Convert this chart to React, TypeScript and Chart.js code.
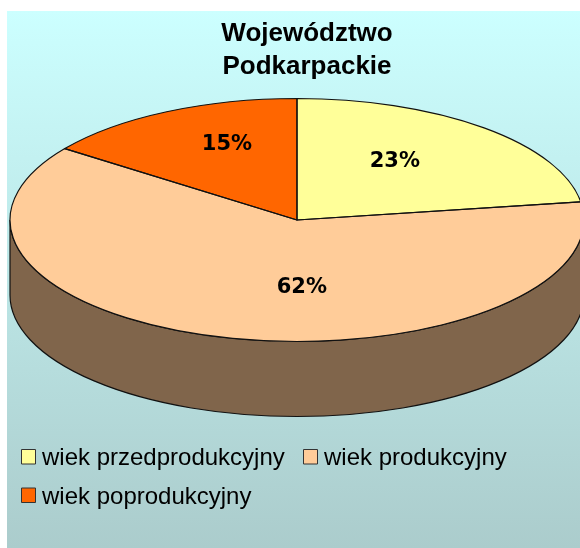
import React, { useEffect, useRef } from "react";
import { Chart, registerables } from "chart.js";

Chart.register(...registerables);

// Data
const categories = ["wiek przedprodukcyjny", "wiek produkcyjny", "wiek poprodukcyjny"];
const shares = [22.6, 62.4, 15.0];
const percentLabels = ["23%", "62%", "15%"];
const sliceColors = ["#FFFF99", "#FFCC99", "#FF6600"];
const titleLines = ["Województwo", "Podkarpackie"];

// Layout of the tilted disc
const DISC = { cx: 297, cy: 220, rx: 287, ry: 121.5, depth: 75 };
const WALL_COLOR = "#80654B";
const OUTLINE = "#111111";
// label anchors, as fractions of the ellipse radii from its centre
const LABEL_ANCHORS = [
  [0.341, -0.478],
  [0.017, 0.559],
  [-0.244, -0.618],
];
const LEGEND_ROWS = [
  { x: 21.5, y: 457.5, box: 449.5, item: 0 },
  { x: 303.5, y: 457.5, box: 449.5, item: 1 },
  { x: 21.5, y: 496, box: 488, item: 2 },
];

const tiltedPie = {
  id: "tiltedPie",
  beforeDraw(chart: any) {
    const { ctx, width, height } = chart;
    const g = ctx.createLinearGradient(0, 11, 0, height);
    g.addColorStop(0, "#CCFFFF");
    g.addColorStop(1, "#ABCCCC");
    ctx.save();
    ctx.fillStyle = "#FFFFFF";
    ctx.fillRect(0, 0, width, height);
    ctx.fillStyle = g;
    ctx.fillRect(7, 11, width - 7, height - 11);
    ctx.restore();
  },
  beforeDatasetsDraw(chart: any) {
    const { ctx } = chart;
    const { cx, cy, rx, ry, depth } = DISC;
    const arc = chart.getDatasetMeta(0).data[0];
    const r = arc.outerRadius;
    // wall of the disc
    ctx.save();
    ctx.beginPath();
    ctx.ellipse(cx, cy, rx, ry, 0, 0, Math.PI, false);
    ctx.lineTo(cx - rx, cy + depth);
    ctx.ellipse(cx, cy + depth, rx, ry, 0, Math.PI, 0, true);
    ctx.closePath();
    ctx.fillStyle = WALL_COLOR;
    ctx.fill();
    ctx.strokeStyle = OUTLINE;
    ctx.lineWidth = 1.2;
    ctx.stroke();
    ctx.restore();
    // squash the library's circular arcs onto the ellipse
    ctx.save();
    ctx.translate(cx, cy);
    ctx.scale(rx / r, ry / r);
    ctx.translate(-arc.x, -arc.y);
  },
  afterDatasetsDraw(chart: any) {
    const { ctx } = chart;
    ctx.restore();
    const { cx, cy, rx, ry } = DISC;
    const arcs = chart.getDatasetMeta(0).data;
    ctx.save();
    ctx.strokeStyle = OUTLINE;
    ctx.lineWidth = 1.2;
    ctx.lineJoin = "round";
    arcs.forEach((a: any) => {
      ctx.beginPath();
      ctx.moveTo(cx, cy);
      ctx.ellipse(cx, cy, rx, ry, 0, a.startAngle, a.endAngle, false);
      ctx.closePath();
      ctx.stroke();
    });
    ctx.fillStyle = "#000000";
    ctx.font = "bold 21px 'DejaVu Sans'";
    ctx.textAlign = "center";
    ctx.textBaseline = "middle";
    percentLabels.forEach((t, i) => {
      const [fx, fy] = LABEL_ANCHORS[i];
      ctx.fillText(t, cx + fx * rx, cy + fy * ry);
    });
    // legend
    ctx.font = "24px 'Liberation Sans'";
    ctx.textAlign = "left";
    LEGEND_ROWS.forEach(({ x, y, box, item }) => {
      ctx.fillStyle = sliceColors[item];
      ctx.fillRect(x, box, 14, 14.5);
      ctx.strokeStyle = "#333333";
      ctx.lineWidth = 1;
      ctx.strokeRect(x, box, 14, 14.5);
      ctx.fillStyle = "#000000";
      ctx.fillText(categories[item], x + 20.5, y + 1);
    });
    ctx.restore();
  },
};

export default function App() {
  const ref = useRef<HTMLCanvasElement>(null);
  useEffect(() => {
    const chart = new Chart(ref.current!, {
      type: "pie",
      data: {
        labels: categories,
        datasets: [
          {
            data: shares,
            backgroundColor: sliceColors,
            borderWidth: 0,
            clip: false,
          } as any,
        ],
      },
      plugins: [tiltedPie],
      options: {
        responsive: false,
        animation: false,
        layout: { padding: { left: 34, top: 8 } },
        plugins: {
          legend: { display: false },
          tooltip: { enabled: false },
          title: {
            display: true,
            text: titleLines,
            fullSize: false,
            color: "#000000",
            font: { family: "'Liberation Sans'", size: 26, weight: "bold", lineHeight: 33 / 26 },
            padding: { top: 9, bottom: 10 },
          },
        },
      },
    });
    return () => chart.destroy();
  }, []);
  return (
    <canvas
      ref={ref}
      width={580}
      height={548}
      style={{ position: "fixed", left: 0, top: 0, display: "block" }}
    />
  );
}
